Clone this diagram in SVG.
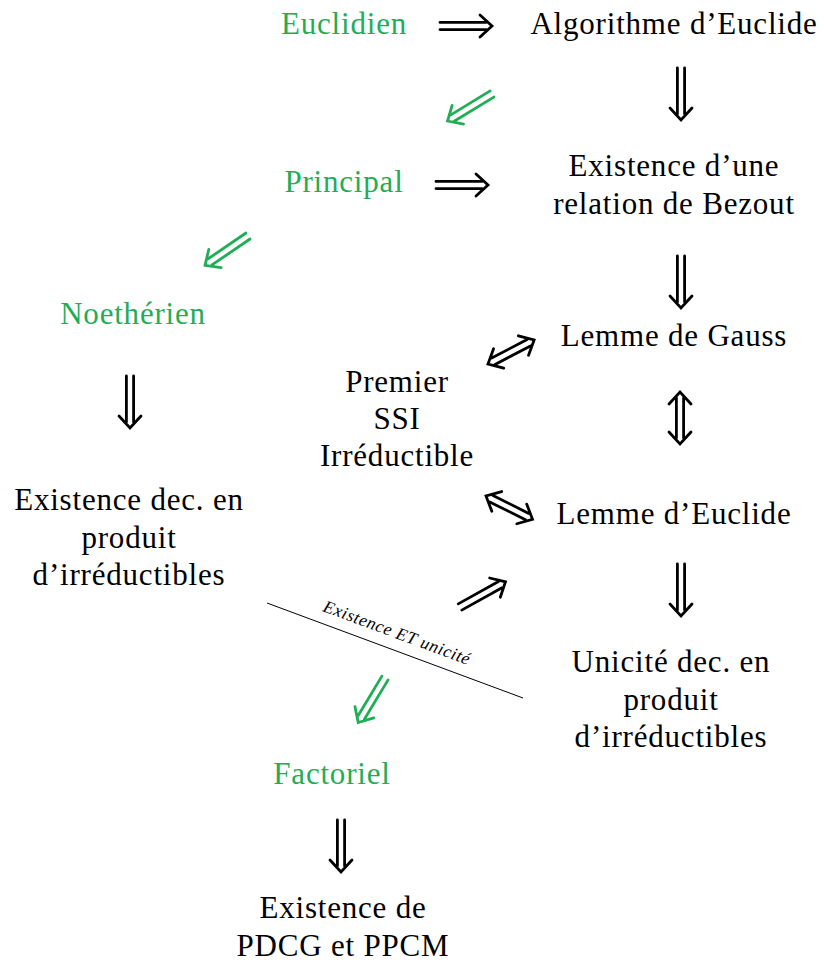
<svg xmlns="http://www.w3.org/2000/svg" width="824" height="962" viewBox="0 0 824 962">
<style>
text{font-family:"Liberation Serif","DejaVu Serif",serif;font-size:31px;letter-spacing:0.8px;text-anchor:middle;fill:#000}
.g{fill:#1fae55}
.ar{fill:none;stroke:#000;stroke-width:2.8;stroke-linecap:round;stroke-linejoin:miter}
.ga{stroke:#1fae55}
.small{font-size:17.5px;font-style:italic;letter-spacing:0.6px}
</style>
<defs>
<g id="imp">
<path d="M0,-3.6H46M0,3.6H46M40,-11L52,0L40,11"/>
</g>
<g id="iff">
<path d="M6,-3.6H46M6,3.6H46M40,-11L52,0L40,11M12,-11L0,0L12,11"/>
</g>
</defs>
<g id="connectors">
<use href="#imp" class="ar" transform="translate(440,26)"/>
<use href="#imp" class="ar" transform="translate(681,68) rotate(90)"/>
<use href="#imp" class="ar ga" transform="translate(492,94) rotate(148.7)"/>
<use href="#imp" class="ar" transform="translate(436,185)"/>
<use href="#imp" class="ar" transform="translate(681,256) rotate(90)"/>
<use href="#imp" class="ar ga" transform="translate(248,236) rotate(145.7)"/>
<use href="#iff" class="ar" transform="translate(488,364) rotate(-27.5)"/>
<use href="#imp" class="ar" transform="translate(130,376) rotate(90)"/>
<use href="#iff" class="ar" transform="translate(680,392) rotate(90)"/>
<use href="#iff" class="ar" transform="translate(486,496) rotate(26.6)"/>
<use href="#imp" class="ar" transform="translate(681,564) rotate(90)"/>
<use href="#imp" class="ar" transform="translate(460,607) rotate(-29)"/>
<use href="#imp" class="ar ga" transform="translate(385,678) rotate(121)"/>
<use href="#imp" class="ar" transform="translate(341,820) rotate(90)"/>
<line x1="267" y1="603" x2="523" y2="698" stroke="#000" stroke-width="1"/>
<text class="small" transform="translate(395,638) rotate(20.4)">Existence ET unicité</text>
</g>
<g id="euclidien"><text class="g" x="344" y="34">Euclidien</text></g>
<g id="algo"><text x="674" y="34">Algorithme d’Euclide</text></g>
<g id="principal"><text class="g" x="344" y="192">Principal</text></g>
<g id="bezout"><text x="674" y="176">Existence d’une</text><text x="674" y="214">relation de Bezout</text></g>
<g id="noetherien"><text class="g" x="133" y="324">Noethérien</text></g>
<g id="gauss"><text x="674" y="346">Lemme de Gauss</text></g>
<g id="premier"><text x="397" y="392">Premier</text><text x="397" y="429">SSI</text><text x="397" y="466">Irréductible</text></g>
<g id="existence"><text x="129" y="510">Existence dec. en</text><text x="129" y="548">produit</text><text x="129" y="585">d’irréductibles</text></g>
<g id="lemme-euclide"><text x="674" y="524">Lemme d’Euclide</text></g>
<g id="unicite"><text x="671" y="672">Unicité dec. en</text><text x="671" y="710">produit</text><text x="671" y="747">d’irréductibles</text></g>
<g id="factoriel"><text class="g" x="332" y="784">Factoriel</text></g>
<g id="pdcg"><text x="343" y="918">Existence de</text><text x="343" y="956">PDCG et PPCM</text></g>
</svg>
